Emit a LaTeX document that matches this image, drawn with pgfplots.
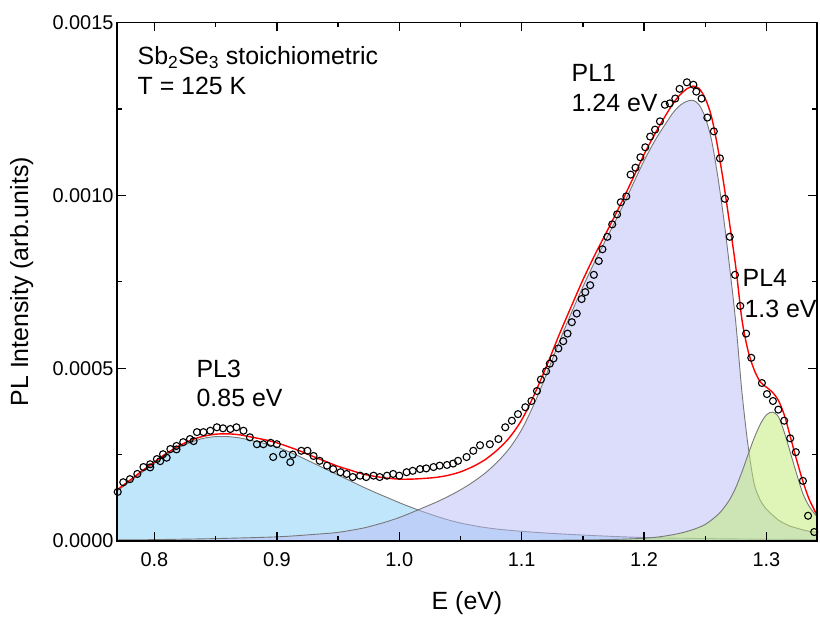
\documentclass[border=0pt]{standalone}
\usepackage{fontspec}
\setmainfont{Liberation Sans}
\usepackage{pgfplots}
\pgfplotsset{compat=1.18}

\definecolor{plthree}{RGB}{129,205,249}
\definecolor{plone}{RGB}{185,187,245}
\definecolor{plfour}{RGB}{191,235,113}
\definecolor{outl}{RGB}{120,120,120}

\begin{document}
\begin{tikzpicture}
\begin{axis}[
  scale only axis, width=700bp, height=518.5bp,
  xmin=0.7694, xmax=1.3413, ymin=0, ymax=0.0015,
  xtick={0.8,0.9,1.0,1.1,1.2,1.3},
  ytick={0,0.0005,0.001,0.0015},
  minor x tick num=1, minor y tick num=1,
  tick align=inside, major tick length=9bp, minor tick length=5bp,
  tick style={black, line width=1.3bp},
  axis line style={line width=1.6bp},
  axis on top, clip=false,
  scaled y ticks=false,
  /pgf/number format/assume math mode=true,
  tick label style={font=\fontsize{20}{24}\selectfont},
  x tick label style={yshift=-8bp, /pgf/number format/.cd, fixed, fixed zerofill, precision=1},
  y tick label style={/pgf/number format/.cd, fixed, fixed zerofill, precision=4},
  xlabel={E (eV)}, ylabel={PL Intensity (arb.units)},
  every axis x label/.style={at={(axis description cs:0.5,-0.12)}, anchor=center,
    font=\fontsize{25}{30}\selectfont},
  every axis y label/.style={at={(axis description cs:-0.136,0.5)}, anchor=center, rotate=90,
    font=\fontsize{25}{30}\selectfont},
]

% measured data
\addplot[only marks, mark=o, mark size=3.5bp, black, mark options={line width=1.1bp}] coordinates {
(0.770,1.42e-4)(0.7745,1.70e-4)(0.780,1.79e-4)(0.786,1.94e-4)(0.791,2.14e-4)(0.7965,2.22e-4)
(0.7965,2.13e-4)(0.8047,2.31e-4)(0.810,2.41e-4)(0.818,2.65e-4)(0.832,2.89e-4)
(0.802,2.37e-4)(0.807,2.51e-4)(0.813,2.66e-4)(0.818,2.75e-4)(0.8235,2.86e-4)(0.829,2.95e-4)
(0.8347,3.15e-4)(0.840,3.15e-4)(0.8456,3.19e-4)(0.851,3.29e-4)(0.856,3.26e-4)(0.862,3.24e-4)
(0.867,3.29e-4)(0.8727,3.19e-4)(0.878,3.00e-4)(0.8837,2.80e-4)(0.889,2.80e-4)(0.895,2.84e-4)
(0.897,2.43e-4)(0.900,2.80e-4)(0.905,2.51e-4)(0.911,2.28e-4)(0.913,2.50e-4)(0.920,2.61e-4)
(0.925,2.61e-4)(0.930,2.46e-4)(0.935,2.32e-4)(0.941,2.18e-4)(0.946,2.08e-4)(0.952,1.99e-4)
(0.957,1.94e-4)(0.962,1.85e-4)(0.968,1.89e-4)(0.973,1.85e-4)(0.979,1.89e-4)(0.984,1.85e-4)
(0.990,1.89e-4)(0.995,1.94e-4)(1.000,1.89e-4)(1.006,1.99e-4)(1.011,2.03e-4)(1.017,2.08e-4)
(1.022,2.10e-4)(1.028,2.14e-4)(1.033,2.18e-4)(1.039,2.20e-4)(1.044,2.24e-4)(1.048,2.32e-4)
(1.055,2.43e-4)(1.0605,2.61e-4)(1.066,2.77e-4)(1.074,2.80e-4)(1.081,2.95e-4)(1.0866,3.29e-4)
(1.092,3.48e-4)(1.097,3.67e-4)(1.103,3.87e-4)(1.108,4.05e-4)(1.1125,4.34e-4)(1.1157,4.67e-4)
(1.120,4.91e-4)(1.123,5.13e-4)(1.126,5.28e-4)(1.130,5.57e-4)(1.134,5.78e-4)(1.1375,6.00e-4)
(1.141,6.33e-4)(1.145,6.58e-4)(1.149,7.00e-4)(1.152,7.20e-4)(1.156,7.40e-4)(1.159,7.70e-4)
(1.163,8.10e-4)(1.166,8.44e-4)(1.170,8.80e-4)(1.174,9.16e-4)(1.178,9.45e-4)(1.181,9.80e-4)
(1.1855,9.97e-4)(1.189,10.60e-4)(1.193,10.80e-4)(1.197,11.10e-4)(1.201,11.39e-4)(1.205,11.70e-4)
(1.209,11.90e-4)(1.213,12.14e-4)(1.217,12.62e-4)(1.221,12.66e-4)(1.2255,12.80e-4)(1.229,13.08e-4)
(1.235,13.27e-4)(1.2403,13.20e-4)(1.2427,13.00e-4)(1.247,12.80e-4)(1.2517,12.25e-4)(1.257,11.85e-4)
(1.262,11.07e-4)(1.266,9.90e-4)(1.270,8.80e-4)(1.2743,7.70e-4)(1.2786,6.80e-4)(1.2834,6.00e-4)
(1.2876,5.30e-4)(1.2963,4.57e-4)(1.3004,4.25e-4)(1.3053,4.05e-4)(1.3097,3.80e-4)(1.3145,3.48e-4)
(1.3194,2.97e-4)(1.324,2.57e-4)(1.3298,1.74e-4)(1.334,0.73e-4)(1.339,0.26e-4)
};

% PL3 component
\addplot[draw=outl, line width=0.9bp, fill=plthree, fill opacity=0.5, smooth, tension=0.5] coordinates {
(0.7694,1.45e-4)(0.78,1.72e-4)(0.79,1.99e-4)(0.80,2.25e-4)(0.81,2.49e-4)(0.82,2.70e-4)
(0.83,2.86e-4)(0.84,2.97e-4)(0.85,3.02e-4)(0.86,3.02e-4)(0.87,2.98e-4)(0.88,2.90e-4)
(0.89,2.82e-4)(0.90,2.72e-4)(0.91,2.58e-4)(0.92,2.42e-4)(0.93,2.25e-4)(0.94,2.08e-4)
(0.95,1.91e-4)(0.96,1.74e-4)(0.97,1.57e-4)(0.98,1.41e-4)(0.99,1.26e-4)(1.00,1.11e-4)
(1.01,0.97e-4)(1.02,0.84e-4)(1.03,0.72e-4)(1.04,0.61e-4)(1.05,0.52e-4)(1.06,0.45e-4)
(1.07,0.39e-4)(1.08,0.345e-4)(1.09,0.31e-4)(1.10,0.28e-4)(1.12,0.23e-4)(1.14,0.19e-4)
(1.16,0.155e-4)(1.18,0.125e-4)(1.20,0.10e-4)(1.22,0.085e-4)(1.25,0.07e-4)(1.28,0.058e-4)
(1.31,0.05e-4)(1.3413,0.043e-4)
} \closedcycle;

% PL1 component
\addplot[draw=outl, line width=0.9bp, fill=plone, fill opacity=0.5, smooth, tension=0.5] coordinates {
(0.7694,0.03e-4)(0.80,0.04e-4)(0.85,0.07e-4)(0.90,0.12e-4)(0.93,0.19e-4)(0.95,0.25e-4)
(0.97,0.37e-4)(0.98,0.46e-4)(0.99,0.56e-4)(1.00,0.68e-4)(1.01,0.82e-4)(1.02,0.97e-4)
(1.03,1.12e-4)(1.04,1.29e-4)(1.05,1.48e-4)(1.06,1.70e-4)(1.07,1.96e-4)(1.08,2.28e-4)
(1.09,2.68e-4)(1.10,3.22e-4)(1.11,3.95e-4)(1.12,4.80e-4)(1.13,5.70e-4)(1.14,6.55e-4)
(1.15,7.35e-4)(1.16,8.10e-4)(1.17,8.80e-4)(1.18,9.50e-4)(1.19,10.25e-4)(1.20,11.0e-4)
(1.21,11.65e-4)(1.22,12.2e-4)(1.225,12.45e-4)(1.23,12.62e-4)(1.235,12.72e-4)(1.24,12.75e-4)
(1.245,12.62e-4)(1.25,12.25e-4)(1.255,11.62e-4)(1.26,10.6e-4)(1.265,9.35e-4)(1.27,7.9e-4)
(1.275,6.3e-4)(1.28,4.3e-4)(1.285,2.75e-4)(1.29,1.65e-4)(1.295,1.18e-4)(1.30,0.92e-4)
(1.305,0.75e-4)(1.31,0.60e-4)(1.315,0.50e-4)(1.32,0.42e-4)(1.325,0.37e-4)(1.33,0.32e-4)
(1.335,0.28e-4)(1.3413,0.25e-4)
} \closedcycle;

% PL4 component
\addplot[draw=outl, line width=0.9bp, fill=plfour, fill opacity=0.5, smooth, tension=0.5] coordinates {
(1.10,0.01e-4)(1.15,0.03e-4)(1.18,0.05e-4)(1.20,0.08e-4)(1.21,0.11e-4)(1.22,0.16e-4)
(1.23,0.23e-4)(1.24,0.33e-4)(1.25,0.48e-4)(1.26,0.75e-4)(1.265,0.95e-4)(1.27,1.2e-4)
(1.275,1.55e-4)(1.28,2.0e-4)(1.285,2.5e-4)(1.29,2.98e-4)(1.295,3.38e-4)(1.30,3.65e-4)
(1.305,3.73e-4)(1.31,3.58e-4)(1.315,3.10e-4)(1.32,2.50e-4)(1.325,1.90e-4)(1.33,1.35e-4)
(1.335,1.00e-4)(1.3413,0.70e-4)
} \closedcycle;

% cumulative fit
\addplot[red, line width=1.4bp, smooth, tension=0.5] coordinates {
(0.7694,1.48e-4)(0.78,1.76e-4)(0.79,2.03e-4)(0.80,2.29e-4)(0.81,2.54e-4)(0.82,2.75e-4)
(0.83,2.92e-4)(0.84,3.03e-4)(0.85,3.09e-4)(0.86,3.10e-4)(0.87,3.07e-4)(0.88,3.00e-4)
(0.89,2.93e-4)(0.90,2.84e-4)(0.91,2.72e-4)(0.92,2.59e-4)(0.93,2.44e-4)(0.94,2.30e-4)
(0.95,2.16e-4)(0.96,2.05e-4)(0.97,1.94e-4)(0.98,1.87e-4)(0.99,1.82e-4)(1.00,1.79e-4)
(1.01,1.79e-4)(1.02,1.81e-4)(1.03,1.84e-4)(1.04,1.90e-4)(1.05,2.00e-4)(1.06,2.15e-4)
(1.07,2.35e-4)(1.08,2.63e-4)(1.09,2.99e-4)(1.10,3.50e-4)(1.11,4.21e-4)(1.12,5.03e-4)
(1.13,5.91e-4)(1.14,6.74e-4)(1.15,7.55e-4)(1.16,8.29e-4)(1.17,8.98e-4)(1.18,9.68e-4)
(1.19,10.42e-4)(1.20,11.18e-4)(1.21,11.85e-4)(1.22,12.45e-4)(1.225,12.72e-4)(1.23,12.93e-4)
(1.235,13.08e-4)(1.24,13.16e-4)(1.245,13.09e-4)(1.25,12.80e-4)(1.255,12.29e-4)(1.26,11.42e-4)
(1.265,10.36e-4)(1.27,9.16e-4)(1.275,7.91e-4)(1.28,6.40e-4)(1.285,5.50e-4)(1.29,4.95e-4)
(1.295,4.60e-4)(1.30,4.45e-4)(1.305,4.30e-4)(1.31,4.05e-4)(1.315,3.60e-4)(1.32,2.95e-4)
(1.325,2.30e-4)(1.33,1.70e-4)(1.335,1.20e-4)(1.3413,0.75e-4)
};

\node[anchor=base west, inner sep=0, font=\fontsize{25}{30}\selectfont] at (axis cs:0.7861,0.0013785) {Sb\textsubscript{2}Se\textsubscript{3} stoichiometric};
\node[anchor=base west, inner sep=0, font=\fontsize{25}{30}\selectfont] at (axis cs:0.7861,0.0012917) {T = 125 K};
\node[anchor=base west, inner sep=0, font=\fontsize{25}{30}\selectfont] at (axis cs:1.1407,0.0013293) {PL1};
\node[anchor=base west, inner sep=0, font=\fontsize{25}{30}\selectfont] at (axis cs:1.1407,0.0012425) {1.24 eV};
\node[anchor=base west, inner sep=0, font=\fontsize{25}{30}\selectfont] at (axis cs:0.8343,0.000473) {PL3};
\node[anchor=base west, inner sep=0, font=\fontsize{25}{30}\selectfont] at (axis cs:0.8343,0.000389) {0.85 eV};
\node[anchor=base west, inner sep=0, font=\fontsize{25}{30}\selectfont] at (axis cs:1.2804,0.000736) {PL4};
\node[anchor=base west, inner sep=0, font=\fontsize{25}{30}\selectfont] at (axis cs:1.2820,0.000647) {1.3 eV};
\end{axis}
\pgfresetboundingbox
\path (current axis.south west) ++(-117bp,-76bp) rectangle ++(820bp,617bp);
\end{tikzpicture}
\end{document}
